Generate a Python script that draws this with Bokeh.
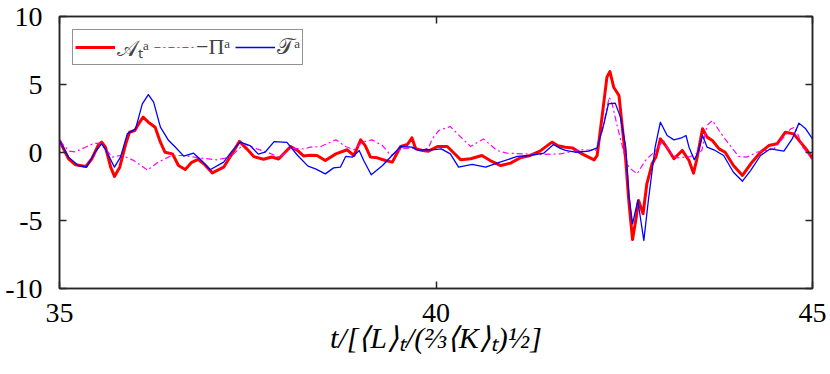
from bokeh.plotting import figure
from bokeh.models import Range1d, LinearAxis, FixedTicker, Legend, LegendItem
from bokeh.embed import file_html
from bokeh.resources import INLINE

# ---- data ----
t_A = [35.00, 35.12, 35.21, 35.35, 35.43, 35.52, 35.56, 35.61, 35.68, 35.73, 35.80, 35.88, 35.93, 36.00,
       36.05, 36.11, 36.18, 36.27, 36.34, 36.40, 36.50, 36.58, 36.67, 36.75, 36.84, 36.92, 37.03, 37.18,
       37.29, 37.39, 37.49, 37.58, 37.71, 37.82, 37.91, 38.07, 38.16, 38.24, 38.33, 38.42, 38.53, 38.67,
       38.82, 38.91, 39.00, 39.06, 39.13, 39.22, 39.33, 39.42, 39.53, 39.62, 39.68, 39.73, 39.82, 39.90,
       40.02, 40.15, 40.33, 40.46, 40.61, 40.72, 40.86, 40.99, 41.12, 41.25, 41.38, 41.54, 41.62, 41.72,
       41.81, 41.94, 42.10, 42.14, 42.21, 42.27, 42.31, 42.36, 42.43, 42.47, 42.52, 42.56, 42.61, 42.66,
       42.69, 42.75, 42.80, 42.87, 42.92, 42.98, 43.05, 43.16, 43.27, 43.36, 43.42, 43.46, 43.54, 43.60,
       43.67, 43.76, 43.84, 43.95, 44.07, 44.18, 44.31, 44.42, 44.53, 44.64, 44.75, 44.84, 44.93, 45.00]
v_A = [0.88, -0.46, -0.90, -1.03, -0.46, 0.59, 0.76, 0.39, -1.08, -1.76, -1.08, 0.64, 1.49, 1.62,
       2.10, 2.60, 2.23, 1.86, 0.76, 0.02, -0.10, -0.96, -1.25, -0.75, -0.50, -0.85, -1.50, -1.08,
       -0.10, 0.82, 0.25, -0.30, -0.50, -0.33, -0.48, 0.44, 0.15, -0.25, -0.20, -0.22, -0.59, -0.10,
       0.20, -0.22, 0.93, 0.51, -0.34, -0.39, -0.59, -0.71, 0.44, 0.59, 1.08, 0.27, 0.15, 0.10,
       0.44, 0.44, -0.54, -0.46, -0.22, -0.59, -0.96, -0.78, -0.39, -0.22, 0.10, 0.76, 0.50, 0.39,
       0.34, -0.10, -0.54, -0.22, 2.84, 5.54, 5.95, 4.80, 4.19, 2.10, -0.59, -3.53, -6.40, -4.75,
       -3.53, -4.50, -2.30, -0.83, -0.34, 1.00, 0.51, -0.46, 0.15, -0.59, -1.52, -0.59, 1.74, 1.13,
       0.88, 0.27, 0.02, -0.96, -1.69, -0.83, 0.02, 0.51, 0.64, 1.49, 1.37, 0.76, 0.15, -0.46]

t_P = [35.00, 35.13, 35.21, 35.35, 35.45, 35.53, 35.62, 35.70, 35.83, 35.99, 36.17, 36.31, 36.49, 36.65,
       36.87, 37.09, 37.27, 37.45, 37.62, 37.76, 37.93, 38.07, 38.25, 38.33, 38.47, 38.67, 38.80, 38.91,
       39.02, 39.15, 39.29, 39.40, 39.55, 39.68, 39.79, 39.90, 39.95, 40.04, 40.19, 40.33, 40.46, 40.63,
       40.81, 40.94, 41.17, 41.39, 41.65, 41.76, 41.94, 42.12, 42.21, 42.30, 42.34, 42.41, 42.50, 42.56,
       42.67, 42.78, 42.92, 43.02, 43.11, 43.20, 43.38, 43.53, 43.60, 43.67, 43.82, 44.02, 44.13, 44.26,
       44.49, 44.71, 44.77, 44.87, 45.00]
v_P = [0.85, 0.10, 0.05, 0.40, 0.66, 0.68, 0.20, -0.34, -0.20, -0.60, -1.30, -0.71, -0.22, -0.22,
       -0.40, -0.54, -0.34, 0.64, 0.27, 0.02, -0.37, 0.30, 0.27, 0.39, 0.44, 0.93, 0.44, 0.20,
       0.76, 0.93, 0.51, -0.22, 0.27, 0.34, 0.15, 0.34, 1.00, 1.62, 1.91, 1.13, 0.44, 1.00,
       0.15, -0.05, -0.10, -0.15, -0.10, 0.02, 0.20, 0.15, 1.62, 4.07, 3.58, 1.86, -0.10, -1.08,
       -1.57, -0.59, 0.15, 0.90, 0.02, -0.40, -0.30, 0.15, 1.99, 2.35, 1.13, -0.29, -0.34, 0.02,
       0.27, 1.74, 1.86, 0.39, -0.50]

t_T = [35.00, 35.12, 35.25, 35.36, 35.47, 35.56, 35.62, 35.73, 35.81, 35.90, 36.01, 36.10, 36.18, 36.25,
       36.34, 36.45, 36.54, 36.65, 36.78, 36.87, 37.00, 37.18, 37.29, 37.40, 37.53, 37.64, 37.73, 37.85,
       38.02, 38.16, 38.30, 38.40, 38.53, 38.64, 38.73, 38.80, 38.89, 38.98, 39.04, 39.14, 39.29, 39.53,
       39.68, 39.77, 39.86, 39.95, 40.07, 40.19, 40.30, 40.48, 40.66, 40.81, 41.08, 41.25, 41.43, 41.56,
       41.65, 41.72, 41.85, 42.03, 42.14, 42.23, 42.29, 42.38, 42.45, 42.52, 42.56, 42.61, 42.68, 42.76,
       42.82, 42.91, 42.98, 43.07, 43.16, 43.27, 43.32, 43.36, 43.43, 43.48, 43.54, 43.60, 43.69, 43.82,
       43.95, 44.07, 44.18, 44.31, 44.44, 44.62, 44.73, 44.82, 44.91, 45.00]
v_T = [0.88, -0.34, -0.96, -1.08, 0.02, 0.64, 0.15, -1.08, -0.34, 1.37, 1.74, 3.58, 4.26, 3.70,
       1.86, 0.88, 0.39, -0.27, -0.05, -0.50, -1.27, -0.71, 0.10, 0.76, 0.51, -0.12, 0.02, 0.80,
       0.74, -0.20, -1.00, -1.20, -1.57, -1.13, -1.08, -0.29, -0.34, 0.15, -0.59, -1.64, -0.96, 0.44,
       0.39, 0.15, 0.22, 0.20, 0.27, -0.10, -1.08, -0.88, -1.08, -0.78, -0.29, -0.22, -0.05, 0.59,
       0.30, 0.15, 0.02, 0.10, 0.34, 2.10, 3.58, 3.63, 2.60, 0.39, -3.04, -5.25, -3.53, -6.47,
       -3.53, 0.39, 2.23, 1.25, 0.93, 1.10, 1.25, 0.39, -0.54, 0.02, 1.25, 0.39, 0.20, -0.22,
       -1.45, -2.11, -1.32, -0.22, 0.27, 0.10, 1.00, 2.16, 1.74, 1.00]

x_ticks = [35, 40, 45]
y_ticks = [-10, -5, 0, 5, 10]
y_tick_labels = ["-10", "-5", "0", "5", "10"]
labels = ["𝒜ₜᵃ", "−Πᵃ", "𝒯ᵃ"]
x_label = "t/[⟨L⟩ₜ/(⅔⟨K⟩ₜ)½]"

FONT = "Liberation Serif"
AX = "#262626"

p = figure(width=830, height=374, output_backend="svg", toolbar_location=None,
           x_range=Range1d(35, 45), y_range=Range1d(-10, 10),
           min_border_left=59, min_border_right=18, min_border_top=16, min_border_bottom=86)
p.background_fill_color = "white"
p.border_fill_color = "white"
p.grid.visible = False
p.outline_line_color = AX
p.outline_line_width = 1.5

r_A = p.line(t_A, v_A, line_color="#ff0000", line_width=3, line_join="round")
r_P = p.line(t_P, v_P, line_color="#ff00ff", line_width=1.2, line_dash="6 3 2 3", line_join="round")
r_T = p.line(t_T, v_T, line_color="#0000ff", line_width=1.3, line_join="round")

def style_axis(ax):
    ax.axis_line_color = AX
    ax.axis_line_width = 1.5
    ax.major_tick_line_color = AX
    ax.major_tick_line_width = 1.5
    ax.major_tick_in = 7
    ax.major_tick_out = 0
    ax.minor_tick_line_color = None
    ax.major_label_text_font = FONT
    ax.major_label_text_font_size = "28px"
    ax.major_label_text_color = "black"

p.xaxis.ticker = FixedTicker(ticks=x_ticks)
p.yaxis.ticker = FixedTicker(ticks=y_ticks)
p.yaxis.major_label_overrides = {k: s for k, s in zip(y_ticks, y_tick_labels)}
style_axis(p.xaxis[0])
style_axis(p.yaxis[0])
p.xaxis.major_label_standoff = 15
p.yaxis.major_label_standoff = 17

p.xaxis.axis_label = x_label
p.xaxis.axis_label_text_font = FONT
p.xaxis.axis_label_text_font_style = "italic"
p.xaxis.axis_label_text_font_size = "30px"
p.xaxis.axis_label_text_color = "black"
p.xaxis.axis_label_standoff = -4

ra = LinearAxis(ticker=FixedTicker(ticks=y_ticks))
style_axis(ra)
ra.major_label_overrides = {k: "" for k in y_ticks}
ra.major_label_standoff = 0
p.add_layout(ra, "right")
ta = LinearAxis(ticker=FixedTicker(ticks=x_ticks))
style_axis(ta)
ta.major_label_overrides = {k: "" for k in x_ticks}
ta.major_label_standoff = 0
p.add_layout(ta, "above")

legend = Legend(items=[LegendItem(label=labels[0], renderers=[r_A]),
                       LegendItem(label=labels[1], renderers=[r_P]),
                       LegendItem(label=labels[2], renderers=[r_T])],
                orientation="horizontal", location="top_left")
legend.margin = 13
legend.padding = 2
legend.spacing = 5
legend.glyph_width = 40
legend.glyph_height = 22
legend.label_height = 22
legend.label_standoff = 2
legend.label_text_font = FONT
legend.label_text_font_size = "22px"
legend.border_line_color = AX
legend.border_line_width = 1.5
legend.background_fill_alpha = 1.0
p.add_layout(legend, "center")

open("out.html", "w").write(file_html(p, INLINE))
